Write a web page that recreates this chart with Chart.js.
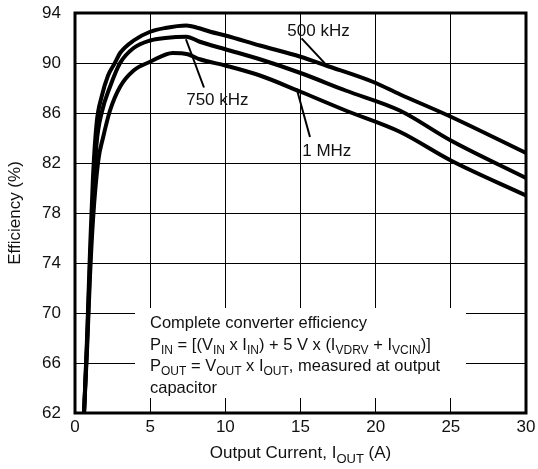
<!DOCTYPE html>
<html>
<head>
<meta charset="utf-8">
<script src="https://cdn.jsdelivr.net/npm/chart.js"></script>
<style>
  html, body { margin:0; padding:0; background:#fff; }
  #wrap { width:538px; height:469px; }
</style>
</head>
<body>
<div id="wrap"><canvas id="effChart" width="538" height="469"></canvas></div>
<script>
// Efficiency vs output current
const current500 = [0.6, 0.8, 1.0, 1.2, 1.44, 1.77, 2.2, 2.65, 3.0, 3.9, 5, 6, 7.4, 8.2, 9, 10, 12.3, 15, 16.7, 19.8, 21.6, 25, 30];
const eff500     = [62, 68, 75, 81, 85.2, 87.3, 89.0, 90.0, 90.8, 91.8, 92.5, 92.8, 93.0, 92.8, 92.5, 92.2, 91.4, 90.5, 89.8, 88.5, 87.5, 85.7, 82.8];

const current750 = [0.6, 0.8, 1.0, 1.2, 1.44, 1.77, 2.33, 3.0, 3.9, 5, 6, 7.4, 8.3, 10, 12.3, 15, 18, 21.6, 25, 30];
const eff750     = [62, 67.5, 74, 79, 83.6, 86.0, 88.1, 90.0, 91.2, 91.8, 92.0, 92.1, 91.7, 91.1, 90.3, 89.2, 87.8, 86.2, 83.8, 80.8];

const current1M  = [0.6, 0.8, 1.0, 1.2, 1.55, 1.88, 2.33, 3.0, 3.9, 5, 6.5, 7.5, 8.3, 10, 12.3, 15, 18, 21.6, 25, 30];
const eff1M      = [62, 67, 73, 77.5, 82.2, 84.1, 86.2, 88.1, 89.4, 90.1, 90.8, 90.7, 90.3, 89.8, 89.0, 87.7, 86.2, 84.5, 82.2, 79.4];

const xTicks = [0, 5, 10, 15, 20, 25, 30];
const yTicks = [62, 66, 70, 74, 78, 82, 86, 90, 94];

// curve labels: [text, textX, textY, leaderX1, leaderY1, leaderX2, leaderY2] in data units
const curveLabels = [
  ["500 kHz", 16.2, 92.56, 15.07, 91.97, 16.73, 89.83],
  ["750 kHz", 9.47, 87.0, 7.38, 91.9, 8.58, 88.04],
  ["1 MHz", 16.75, 82.93, 14.74, 87.96, 15.63, 84.08]
];

const FONT = '"Liberation Sans", Arial, sans-serif';

function toPoints(xs, ys) {
  return xs.map((x, i) => ({ x: x, y: ys[i] }));
}

// draws text with subscript parts, returns width
function drawRich(ctx, parts, x, y, size, measureOnly) {
  let w = 0;
  parts.forEach(p => {
    const sub = p[1];
    ctx.font = (sub ? Math.round(size * 0.74) : size) + "px " + FONT;
    if (!measureOnly) ctx.fillText(p[0], x + w, y + (sub ? size * 0.27 : 0));
    w += ctx.measureText(p[0]).width;
  });
  return w;
}

const overlayPlugin = {
  id: "overlay",
  beforeDatasetsDraw(chart) {
    const ctx = chart.ctx;
    const a = chart.chartArea;
    ctx.save();
    // white patch behind the note
    ctx.fillStyle = "#fff";
    ctx.fillRect(a.left + 60, a.top + 295, 331, 90);

    ctx.fillStyle = "#111";
    ctx.textBaseline = "alphabetic";
    ctx.textAlign = "left";
    const tx = a.left + 75;
    const size = 16.5;
    drawRich(ctx, [["Complete converter efficiency"]], tx, a.top + 315, size);
    drawRich(ctx, [["P"], ["IN", 1], [" = [(V"], ["IN", 1], [" x I"], ["IN", 1], [") + 5 V x (I"], ["VDRV", 1], [" + I"], ["VCIN", 1], [")]"]], tx, a.top + 336.5, size);
    drawRich(ctx, [["P"], ["OUT", 1], [" = V"], ["OUT", 1], [" x I"], ["OUT", 1], [", measured at output"]], tx, a.top + 358, size);
    drawRich(ctx, [["capacitor"]], tx, a.top + 379.5, size);
    ctx.restore();
  },
  afterDraw(chart) {
    const ctx = chart.ctx;
    const a = chart.chartArea;
    const xs = chart.scales.x, ys = chart.scales.y;
    ctx.save();

    // frame
    ctx.strokeStyle = "#000";
    ctx.lineWidth = 3;
    ctx.strokeRect(a.left, a.top, a.right - a.left, a.bottom - a.top);

    // curve labels + leaders
    ctx.lineWidth = 2;
    ctx.fillStyle = "#111";
    ctx.textAlign = "center";
    ctx.textBaseline = "middle";
    ctx.font = "17px " + FONT;
    curveLabels.forEach(l => {
      ctx.beginPath();
      ctx.moveTo(xs.getPixelForValue(l[3]), ys.getPixelForValue(l[4]));
      ctx.lineTo(xs.getPixelForValue(l[5]), ys.getPixelForValue(l[6]));
      ctx.stroke();
      ctx.fillText(l[0], xs.getPixelForValue(l[1]), ys.getPixelForValue(l[2]));
    });

    // x title with subscript
    ctx.textAlign = "left";
    ctx.textBaseline = "alphabetic";
    const xt = [["Output Current, I"], ["OUT", 1], [" (A)"]];
    const w = drawRich(ctx, xt, 0, 0, 17, true);
    drawRich(ctx, xt, (a.left + a.right) / 2 - w / 2, 458, 17);

    // y title
    ctx.translate(15, (a.top + a.bottom) / 2);
    ctx.rotate(-Math.PI / 2);
    ctx.textAlign = "center";
    ctx.textBaseline = "middle";
    ctx.font = "17px " + FONT;
    ctx.fillText("Efficiency (%)", 0, 0);
    ctx.restore();
  }
};

window.onload = function() {
  const ctx = document.getElementById("effChart").getContext("2d");
  const lineStyle = { borderColor: "#000", borderWidth: 4, pointRadius: 0, fill: false, cubicInterpolationMode: "monotone" };

  new Chart(ctx, {
    type: "line",
    data: {
      datasets: [
        Object.assign({ label: "500 kHz", data: toPoints(current500, eff500) }, lineStyle),
        Object.assign({ label: "750 kHz", data: toPoints(current750, eff750) }, lineStyle),
        Object.assign({ label: "1 MHz", data: toPoints(current1M, eff1M) }, lineStyle)
      ]
    },
    options: {
      responsive: false,
      animation: false,
      layout: { padding: { top: 13, right: 12, left: 0, bottom: 0 } },
      plugins: { legend: { display: false }, tooltip: { enabled: false } },
      scales: {
        x: {
          type: "linear", min: 0, max: 30,
          afterBuildTicks: s => { s.ticks = xTicks.map(v => ({ value: v })); },
          afterFit: s => { s.height = 56; s.paddingLeft = 0; s.paddingRight = 0; },
          grid: { color: "#000", lineWidth: 1, drawTicks: false },
          border: { display: false },
          ticks: { color: "#111", padding: 4, maxRotation: 0, font: { family: FONT, size: 17 } }
        },
        y: {
          type: "linear", min: 62, max: 94,
          afterBuildTicks: s => { s.ticks = yTicks.map(v => ({ value: v })); },
          afterFit: s => { s.width = 75; s.paddingTop = 0; s.paddingBottom = 0; },
          grid: { color: "#000", lineWidth: 1, drawTicks: false },
          border: { display: false },
          ticks: { color: "#111", padding: 14, font: { family: FONT, size: 17 } }
        }
      }
    },
    plugins: [overlayPlugin]
  });
};
</script>
</body>
</html>
